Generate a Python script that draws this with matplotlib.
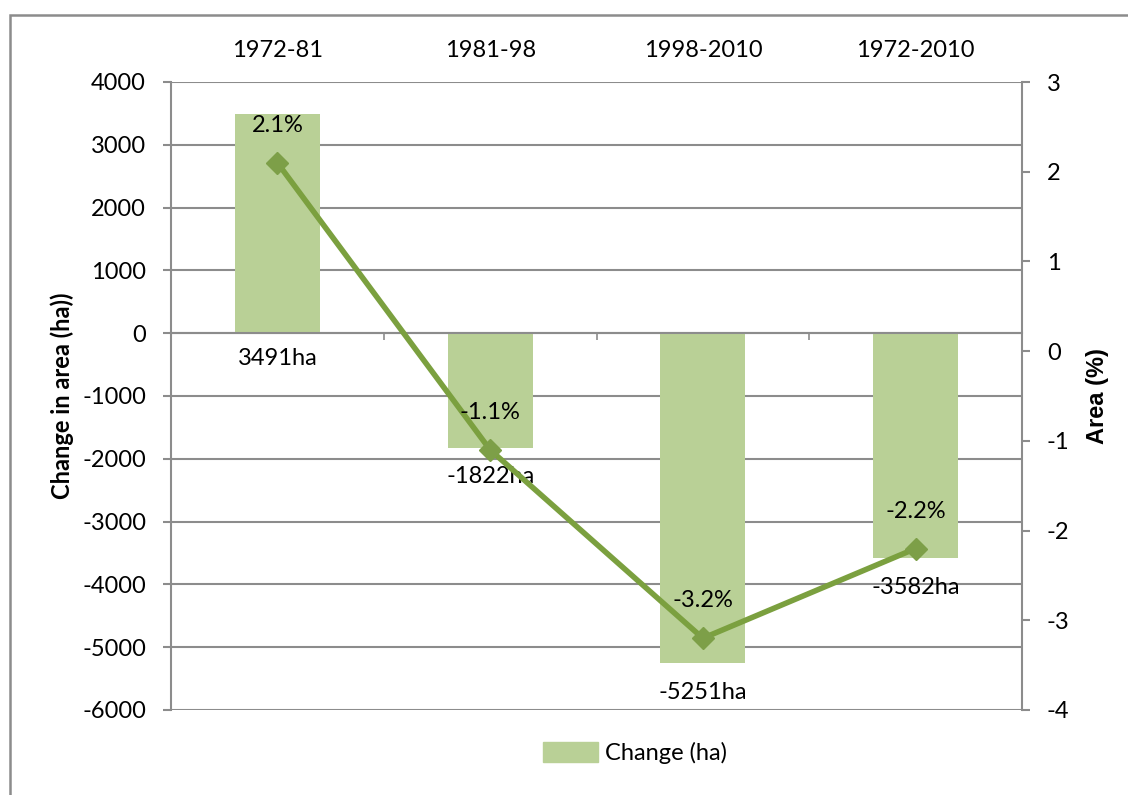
import matplotlib
matplotlib.use("Agg")
import matplotlib.pyplot as plt
from matplotlib.patches import Rectangle, Patch

plt.rcParams['font.family'] = ['Lato', 'DejaVu Sans']
plt.rcParams['axes.unicode_minus'] = False

periods = ['1972-81', '1981-98', '1998-2010', '1972-2010']
change_ha = [3491, -1822, -5251, -3582]
change_pct = [2.1, -1.1, -3.2, -2.2]

bar_color = '#B9D096'
line_color = '#7BA03F'
grid_color = '#8C8C8C'
fs = 17

fig = plt.figure(figsize=(11.28, 7.95), dpi=100)
ax = fig.add_axes([171/1128, 1 - 710/795, (1022 - 171)/1128, (710 - 82)/795])
ax2 = ax.twinx()

x = list(range(len(periods)))
ax.bar(x, change_ha, width=0.4, color=bar_color, zorder=2)
ax.set_xlim(-0.5, 3.5)
ax.set_ylim(-6000, 4000)
ax.set_yticks(range(-6000, 4001, 1000))
ax.grid(axis='y', color=grid_color, lw=1.5, zorder=0)
ax.set_axisbelow(True)

# zero line doubles as the category axis
ax.spines['bottom'].set_position(('data', 0))
ax.spines['bottom'].set_color(grid_color)
ax.spines['bottom'].set_linewidth(1.5)
ax.set_xticks([-0.5, 0.5, 1.5, 2.5, 3.5])
ax.set_xticklabels([])
ax.tick_params(axis='x', length=5, width=1.2, color=grid_color, direction='out')
for s in ['top', 'right']:
    ax.spines[s].set_visible(False)
ax.spines['left'].set_color(grid_color)
ax.spines['left'].set_linewidth(1.5)
ax.tick_params(axis='y', length=6, width=1.5, color=grid_color, pad=12, labelsize=fs)

top = ax.secondary_xaxis('top')
top.set_xticks(x)
top.set_xticklabels(periods, fontsize=fs)
top.tick_params(length=0, pad=15)
top.spines['top'].set_visible(False)

ax.set_ylabel('Change in area (ha))', fontsize=fs, fontweight='bold', labelpad=6)

ax2.plot(x, change_pct, color=line_color, lw=4, marker='D', ms=11,
         markerfacecolor='#7D9F48', markeredgecolor='#7D9F48', zorder=3)
ax2.set_ylim(-4, 3)
ax2.set_yticks(range(-4, 4))
for s in ['top', 'bottom', 'left']:
    ax2.spines[s].set_visible(False)
ax2.spines['right'].set_color(grid_color)
ax2.spines['right'].set_linewidth(1.5)
ax2.tick_params(axis='y', length=6, width=1.5, color=grid_color, pad=12, labelsize=fs)
ax2.set_ylabel('Area (%)', fontsize=fs, fontweight='bold', labelpad=12,
               family=['Liberation Sans', 'DejaVu Sans'])

# value labels
for xi, v in zip(x, change_ha):
    base = 0 if v > 0 else v
    off = -18 if v > 0 else -21
    ax.annotate(f'{v}ha', (xi, base), xytext=(0, off), textcoords='offset points',
                ha='center', va='center', fontsize=fs, zorder=5)
for xi, p in zip(x, change_pct):
    ax2.annotate(f'{p}%', (xi, p), xytext=(0, 27), textcoords='offset points',
                 ha='center', va='center', fontsize=fs, zorder=5)

fig.legend(handles=[Patch(color=bar_color, label='Change (ha)')],
           loc='center', bbox_to_anchor=(0.563, 1 - 753/795), frameon=False,
           fontsize=fs, handlelength=2.3, handleheight=0.9, handletextpad=0.3)

# chart frame
fig.add_artist(Rectangle((10/1128, -0.1), 1.2, 1 - 15/795 + 0.1, transform=fig.transFigure,
                         fill=False, edgecolor=grid_color, lw=1.8))

fig.savefig('out.png', dpi=100)
